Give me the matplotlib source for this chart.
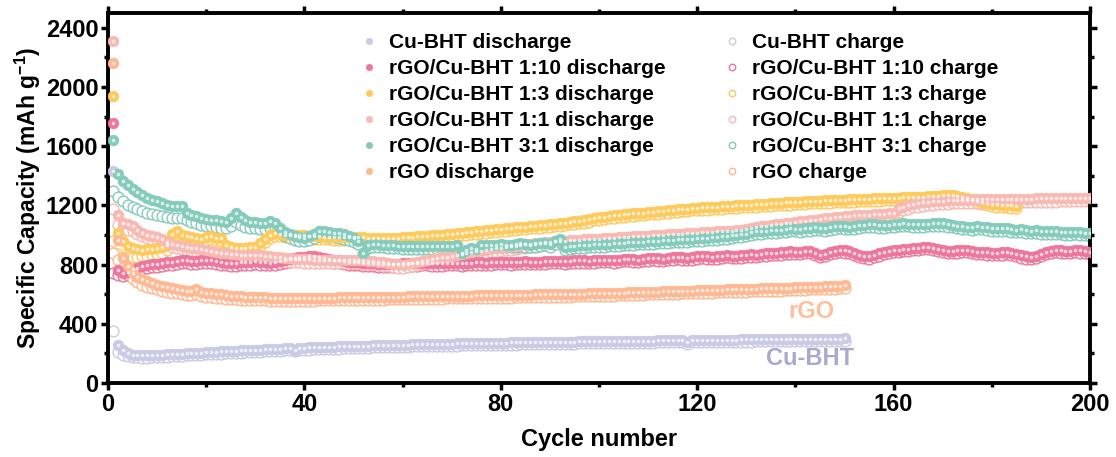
import numpy as np
import matplotlib
matplotlib.use("Agg")
import matplotlib.pyplot as plt

# -----------------------------
# Data
# -----------------------------
cubht_dis = [1430, 255, 222, 200, 192, 188, 186, 186, 187, 189,
             191, 193, 195, 197, 199, 201, 203, 205, 206, 208,
             210, 212, 213, 215, 217, 218, 220, 222, 223, 225,
             226, 228, 229, 231, 232, 234, 235, 226, 237, 239,
             240, 241, 242, 244, 245, 246, 247, 248, 249, 250,
             251, 252, 253, 254, 255, 256, 257, 257, 258, 259,
             260, 261, 261, 262, 263, 264, 264, 265, 266, 266,
             267, 268, 268, 269, 270, 270, 271, 271, 272, 273,
             273, 274, 274, 275, 275, 276, 276, 277, 277, 278,
             278, 279, 279, 280, 280, 281, 281, 282, 282, 283,
             283, 284, 284, 285, 285, 285, 286, 286, 287, 287,
             287, 288, 288, 289, 289, 289, 290, 278, 290, 291,
             291, 291, 292, 292, 292, 293, 293, 293, 294, 294,
             294, 295, 295, 295, 296, 296, 296, 297, 297, 297,
             298, 298, 298, 299, 299, 299, 300, 300, 300, 301]
cubht_chg = [350, 212, 192, 182, 176, 173, 172, 172, 173, 175,
             177, 179, 181, 183, 185, 187, 189, 191, 192, 194,
             196, 198, 199, 201, 203, 204, 206, 208, 209, 211,
             212, 214, 215, 217, 218, 220, 221, 214, 223, 225,
             226, 227, 228, 230, 231, 232, 233, 234, 235, 236,
             237, 238, 239, 240, 241, 242, 243, 243, 244, 245,
             246, 247, 247, 248, 249, 250, 250, 251, 252, 252,
             253, 254, 254, 255, 256, 256, 257, 257, 258, 259,
             259, 260, 260, 261, 261, 262, 262, 263, 263, 264,
             264, 265, 265, 266, 266, 267, 267, 268, 268, 269,
             269, 270, 270, 271, 271, 271, 272, 272, 273, 273,
             273, 274, 274, 275, 275, 275, 276, 266, 276, 277,
             277, 277, 278, 278, 278, 279, 279, 279, 280, 280,
             280, 281, 281, 281, 282, 282, 282, 283, 283, 283,
             284, 284, 284, 285, 285, 285, 286, 286, 286, 287]

r110_dis = [1760, 762, 742, 752, 768, 780, 790, 798, 802, 806,
            810, 815, 820, 824, 828, 830, 826, 822, 828, 834,
            830, 824, 818, 814, 810, 812, 815, 818, 820, 822,
            820, 816, 814, 818, 824, 830, 836, 842, 848, 852,
            855, 856, 852, 846, 840, 834, 828, 824, 820, 818,
            815, 812, 810, 808, 806, 805, 804, 805, 806, 808,
            808, 810, 810, 812, 812, 810, 808, 810, 812, 814,
            812, 810, 812, 814, 816, 815, 814, 816, 818, 820,
            818, 816, 818, 820, 822, 820, 818, 820, 822, 824,
            826, 824, 822, 825, 828, 830, 828, 826, 830, 832,
            834, 832, 830, 834, 838, 840, 836, 834, 838, 842,
            845, 842, 840, 845, 850, 852, 848, 846, 850, 855,
            858, 855, 852, 856, 860, 864, 860, 858, 862, 866,
            870, 868, 872, 876, 880, 878, 882, 886, 890, 888,
            885, 890, 895, 880, 866, 872, 885, 892, 898, 896,
            890, 880, 868, 856, 855, 862, 875, 888, 895, 898,
            900, 905, 908, 912, 915, 918, 922, 915, 905, 898,
            892, 890, 896, 902, 898, 892, 888, 884, 882, 880,
            878, 882, 888, 880, 870, 862, 856, 854, 860, 872,
            886, 894, 898, 896, 892, 894, 898, 896, 892, 888]
r110_chg = [740, 730, 722, 730, 748, 760, 770, 778, 782, 786,
            790, 795, 800, 804, 808, 810, 806, 802, 808, 814,
            810, 804, 798, 794, 790, 792, 795, 798, 800, 802,
            800, 796, 794, 798, 804, 810, 816, 822, 828, 832,
            835, 836, 832, 826, 820, 814, 808, 804, 800, 798,
            795, 792, 790, 788, 786, 785, 784, 785, 786, 788,
            790, 792, 792, 794, 794, 792, 790, 792, 794, 796,
            795, 793, 795, 797, 799, 798, 797, 799, 801, 803,
            802, 800, 802, 804, 806, 804, 802, 804, 806, 808,
            810, 808, 806, 809, 812, 814, 812, 810, 814, 816,
            818, 816, 814, 818, 822, 824, 820, 818, 822, 826,
            829, 826, 824, 829, 834, 836, 832, 830, 834, 839,
            842, 839, 836, 840, 844, 848, 844, 842, 846, 850,
            854, 852, 856, 860, 864, 862, 866, 870, 874, 872,
            870, 875, 880, 866, 852, 858, 870, 877, 883, 881,
            875, 866, 854, 842, 841, 848, 860, 873, 880, 883,
            885, 890, 893, 897, 900, 903, 907, 900, 890, 883,
            877, 875, 881, 887, 883, 877, 873, 869, 867, 865,
            863, 867, 873, 865, 855, 847, 841, 839, 845, 857,
            871, 879, 883, 881, 877, 879, 883, 881, 877, 873]

r13_dis = [1940, 1012, 962, 925, 912, 905, 902, 904, 906, 910,
           916, 932, 1010, 1025, 1002, 992, 986, 980, 976, 984,
           990, 982, 978, 935, 920, 914, 912, 914, 916, 920,
           948, 976, 1000, 1014, 1006, 1000, 998, 1000, 1002, 1000,
           996, 992, 990, 988, 986, 985, 984, 984, 985, 986,
           985, 984, 983, 982, 982, 981, 980, 980, 982, 984,
           986, 988, 990, 993, 996, 998, 1000, 1003, 1006, 1010,
           1013, 1016, 1019, 1022, 1025, 1028, 1032, 1035, 1038, 1042,
           1045, 1048, 1051, 1054, 1057, 1060, 1063, 1066, 1069, 1072,
           1076, 1080, 1084, 1088, 1092, 1096, 1100, 1106, 1114, 1120,
           1124, 1128, 1132, 1136, 1140, 1143, 1146, 1149, 1152, 1155,
           1158, 1161, 1164, 1167, 1170, 1173, 1176, 1179, 1182, 1184,
           1186, 1188, 1190, 1192, 1194, 1196, 1198, 1200, 1202, 1204,
           1206, 1208, 1210, 1212, 1214, 1216, 1218, 1220, 1222, 1224,
           1226, 1228, 1230, 1231, 1232, 1234, 1235, 1236, 1238, 1239,
           1240, 1242, 1243, 1244, 1246, 1247, 1248, 1250, 1251, 1252,
           1253, 1254, 1256, 1257, 1258, 1260, 1262, 1264, 1266, 1268,
           1270, 1268, 1262, 1255, 1248, 1240, 1232, 1225, 1218, 1212,
           1208, 1205, 1202, 1200, 1198]
r13_chg = [960, 870, 850, 845, 848, 852, 856, 860, 866, 872,
           880, 900, 975, 1000, 985, 975, 968, 962, 958, 966,
           972, 966, 960, 915, 900, 894, 892, 894, 896, 900,
           925, 955, 980, 996, 990, 984, 982, 984, 986, 984,
           980, 976, 974, 972, 970, 969, 968, 968, 969, 970,
           969, 968, 967, 966, 966, 965, 964, 964, 966, 968,
           970, 972, 974, 977, 980, 982, 984, 987, 990, 994,
           997, 1000, 1003, 1006, 1009, 1012, 1016, 1019, 1022, 1026,
           1029, 1032, 1035, 1038, 1041, 1044, 1047, 1050, 1053, 1056,
           1060, 1064, 1068, 1072, 1076, 1080, 1084, 1090, 1098, 1104,
           1108, 1112, 1116, 1120, 1124, 1127, 1130, 1133, 1136, 1139,
           1142, 1145, 1148, 1151, 1154, 1157, 1160, 1163, 1166, 1168,
           1170, 1172, 1174, 1176, 1178, 1180, 1182, 1184, 1186, 1188,
           1190, 1192, 1194, 1196, 1198, 1200, 1202, 1204, 1206, 1208,
           1210, 1212, 1214, 1215, 1216, 1218, 1219, 1220, 1222, 1223,
           1224, 1226, 1227, 1228, 1230, 1231, 1232, 1234, 1235, 1236,
           1237, 1238, 1240, 1241, 1242, 1244, 1246, 1248, 1250, 1252,
           1254, 1252, 1246, 1239, 1232, 1224, 1216, 1209, 1202, 1196,
           1192, 1189, 1186, 1184, 1182]

r11_dis = [2310, 1136, 1082, 1076, 1060, 1032, 1012, 1000, 994, 988,
           972, 952, 942, 935, 926, 920, 915, 912, 908, 900,
           892, 885, 880, 876, 872, 870, 868, 866, 865, 864,
           863, 860, 856, 852, 848, 845, 842, 840, 838, 836,
           835, 834, 833, 832, 832, 831, 830, 830, 830, 830,
           830, 828, 826, 824, 820, 815, 810, 806, 802, 800,
           806, 812, 818, 824, 830, 836, 842, 848, 854, 860,
           866, 872, 878, 884, 890, 895, 900, 905, 910, 915,
           920, 924, 928, 932, 936, 940, 944, 948, 952, 956,
           958, 960, 962, 964, 966, 968, 970, 972, 974, 976,
           978, 980, 982, 984, 986, 988, 990, 992, 994, 996,
           998, 1000, 1002, 1004, 1006, 1008, 1010, 1012, 1014, 1016,
           1018, 1020, 1022, 1024, 1026, 1028, 1030, 1032, 1036, 1040,
           1046, 1052, 1058, 1064, 1068, 1072, 1076, 1080, 1084, 1088,
           1092, 1096, 1100, 1104, 1108, 1112, 1116, 1120, 1124, 1127,
           1130, 1132, 1134, 1136, 1138, 1140, 1142, 1144, 1146, 1150,
           1180, 1190, 1200, 1208, 1214, 1220, 1224, 1228, 1230, 1232,
           1234, 1236, 1237, 1238, 1238, 1239, 1240, 1240, 1241, 1242,
           1242, 1243, 1244, 1244, 1245, 1245, 1246, 1246, 1247, 1247,
           1248, 1248, 1248, 1249, 1249, 1250, 1250, 1250, 1251, 1252]
r11_chg = [1176, 1070, 1040, 1035, 1025, 1005, 990, 978, 972, 966,
           950, 930, 920, 913, 904, 898, 893, 890, 886, 878,
           870, 863, 858, 854, 850, 848, 846, 844, 843, 842,
           841, 838, 834, 830, 826, 823, 820, 818, 816, 814,
           813, 812, 811, 810, 810, 809, 808, 808, 808, 808,
           808, 806, 804, 802, 798, 793, 788, 784, 780, 778,
           784, 790, 796, 802, 808, 814, 820, 826, 832, 838,
           844, 850, 856, 862, 868, 873, 878, 883, 888, 893,
           898, 902, 906, 910, 914, 918, 922, 926, 930, 934,
           936, 938, 940, 942, 944, 946, 948, 950, 952, 954,
           956, 958, 960, 962, 964, 966, 968, 970, 972, 974,
           976, 978, 980, 982, 984, 986, 988, 990, 992, 994,
           996, 998, 1000, 1002, 1004, 1006, 1008, 1010, 1014, 1018,
           1024, 1030, 1036, 1042, 1046, 1050, 1054, 1058, 1062, 1066,
           1070, 1074, 1078, 1082, 1086, 1090, 1094, 1098, 1102, 1105,
           1108, 1110, 1112, 1114, 1116, 1118, 1120, 1122, 1124, 1128,
           1158, 1168, 1178, 1186, 1192, 1198, 1202, 1206, 1208, 1210,
           1212, 1214, 1215, 1216, 1216, 1217, 1218, 1218, 1219, 1220,
           1220, 1221, 1222, 1222, 1223, 1223, 1224, 1224, 1225, 1225,
           1226, 1226, 1226, 1227, 1227, 1228, 1228, 1228, 1229, 1230]

r31_dis = [1640, 1415, 1365, 1335, 1310, 1290, 1270, 1250, 1238, 1228,
           1215, 1205, 1198, 1196, 1196, 1150, 1136, 1125, 1115, 1108,
           1102, 1098, 1092, 1090, 1115, 1149, 1120, 1098, 1090, 1085,
           1080, 1082, 1092, 1080, 1050, 1020, 1008, 995, 988, 982,
           990, 1010, 1028, 1025, 1020, 1016, 1014, 1005, 995, 982,
           960, 880, 935, 940, 938, 935, 932, 930, 928, 926,
           925, 924, 925, 926, 925, 924, 925, 926, 925, 926,
           935, 880, 900, 912, 905, 935, 934, 934, 935, 936,
           934, 935, 940, 945, 938, 935, 940, 946, 948, 940,
           960, 975, 920, 925, 928, 930, 932, 934, 936, 938,
           940, 942, 944, 946, 948, 950, 952, 954, 956, 958,
           960, 962, 964, 966, 968, 970, 972, 974, 976, 978,
           980, 982, 984, 986, 990, 994, 998, 1002, 1006, 1010,
           1020, 1024, 1028, 1030, 1032, 1034, 1036, 1040, 1044, 1042,
           1040, 1044, 1048, 1052, 1050, 1048, 1052, 1058, 1062, 1060,
           1056, 1060, 1066, 1070, 1074, 1072, 1068, 1066, 1070, 1074,
           1076, 1078, 1076, 1074, 1072, 1074, 1076, 1078, 1080, 1078,
           1074, 1070, 1064, 1060, 1056, 1054, 1058, 1056, 1052, 1048,
           1046, 1048, 1044, 1040, 1036, 1038, 1034, 1030, 1032, 1028,
           1026, 1024, 1028, 1022, 1020, 1018, 1022, 1018, 1016, 1014]
r31_chg = [1300, 1255, 1228, 1205, 1190, 1178, 1165, 1152, 1145, 1138,
           1130, 1122, 1118, 1115, 1114, 1098, 1085, 1078, 1070, 1064,
           1060, 1056, 1050, 1048, 1060, 1085, 1070, 1055, 1048, 1044,
           1040, 1042, 1050, 1040, 1015, 990, 978, 968, 962, 958,
           964, 980, 994, 992, 988, 984, 982, 975, 966, 955,
           940, 870, 915, 922, 920, 917, 914, 912, 910, 908,
           907, 906, 907, 908, 907, 906, 907, 908, 907, 908,
           915, 866, 884, 895, 890, 916, 916, 916, 917, 918,
           916, 917, 922, 926, 920, 917, 922, 928, 930, 922,
           940, 955, 902, 907, 910, 912, 914, 916, 918, 920,
           922, 924, 926, 928, 930, 932, 934, 936, 938, 940,
           942, 944, 946, 948, 950, 952, 954, 956, 958, 960,
           962, 964, 966, 968, 972, 976, 980, 984, 988, 992,
           1002, 1006, 1010, 1012, 1014, 1016, 1018, 1022, 1026, 1024,
           1022, 1026, 1030, 1034, 1032, 1030, 1034, 1040, 1044, 1042,
           1038, 1042, 1048, 1052, 1056, 1054, 1050, 1048, 1052, 1056,
           1058, 1060, 1058, 1056, 1054, 1056, 1058, 1060, 1062, 1060,
           1056, 1052, 1046, 1042, 1038, 1036, 1040, 1038, 1034, 1030,
           1028, 1030, 1026, 1022, 1018, 1020, 1016, 1012, 1014, 1010,
           1008, 1006, 1010, 1004, 1002, 1000, 1004, 1000, 998, 996]

rgo_dis = [2160, 967, 845, 790, 741, 718, 700, 686, 675, 664,
           655, 646, 640, 635, 630, 625, 620, 632, 616, 610,
           606, 602, 598, 594, 590, 588, 586, 584, 582, 580,
           579, 578, 577, 576, 575, 575, 574, 574, 574, 574,
           575, 575, 576, 576, 577, 577, 578, 578, 579, 579,
           580, 580, 581, 581, 582, 582, 583, 583, 584, 584,
           585, 585, 586, 586, 587, 587, 588, 588, 589, 589,
           590, 590, 591, 591, 592, 592, 593, 593, 594, 594,
           595, 595, 596, 596, 597, 597, 598, 598, 599, 599,
           600, 601, 601, 602, 603, 603, 604, 605, 605, 606,
           607, 608, 609, 610, 611, 612, 613, 614, 615, 616,
           617, 618, 619, 620, 621, 622, 623, 624, 625, 626,
           627, 628, 629, 630, 631, 632, 633, 634, 635, 636,
           637, 638, 639, 640, 641, 642, 643, 644, 645, 646,
           648, 649, 650, 651, 652, 654, 655, 656, 658, 660]
rgo_chg = [880, 830, 780, 740, 700, 680, 665, 652, 642, 632,
           624, 616, 610, 605, 600, 596, 592, 600, 588, 584,
           580, 576, 573, 570, 567, 565, 563, 562, 561, 560,
           559, 558, 557, 557, 556, 556, 556, 556, 556, 556,
           557, 557, 558, 558, 559, 559, 560, 560, 561, 561,
           562, 562, 563, 563, 564, 564, 565, 565, 566, 566,
           567, 567, 568, 568, 569, 569, 570, 570, 571, 571,
           572, 572, 573, 573, 574, 574, 575, 575, 576, 576,
           577, 577, 578, 578, 579, 579, 580, 580, 581, 581,
           582, 583, 583, 584, 585, 585, 586, 587, 587, 588,
           589, 590, 591, 592, 593, 594, 595, 596, 597, 598,
           599, 600, 601, 602, 603, 604, 605, 606, 607, 608,
           609, 610, 611, 612, 613, 614, 615, 616, 617, 618,
           619, 620, 621, 622, 623, 624, 625, 626, 627, 628,
           630, 631, 632, 633, 634, 636, 637, 638, 640, 642]

names = ["Cu-BHT", "rGO/Cu-BHT 1:10", "rGO/Cu-BHT 1:3",
         "rGO/Cu-BHT 1:1", "rGO/Cu-BHT 3:1", "rGO"]
discharge = [cubht_dis, r110_dis, r13_dis, r11_dis, r31_dis, rgo_dis]
charge = [cubht_chg, r110_chg, r13_chg, r11_chg, r31_chg, rgo_chg]
colors = ["#CBCAE4", "#EE769C", "#FFCA5C", "#F9B9B3", "#84CBBB", "#FFB892"]

# -----------------------------
# Style
# -----------------------------
plt.rcParams["font.family"] = ["Liberation Sans", "DejaVu Sans"]
plt.rcParams["font.weight"] = "bold"
plt.rcParams["mathtext.default"] = "regular"

fig = plt.figure(figsize=(11.16, 4.57), dpi=100)
ax = fig.add_axes([108 / 1116, 74 / 457, 982 / 1116, 370 / 457])

# -----------------------------
# Plot
# -----------------------------
ms = 7.8
dis_handles, chg_handles = [], []
for vals, col in zip(charge, colors):
    x = np.arange(1, len(vals) + 1)
    h, = ax.plot(x, vals, "o", ms=ms, mfc="white", mec=col, mew=1.0, zorder=2)
    chg_handles.append(h)
for vals, col in zip(discharge, colors):
    x = np.arange(1, len(vals) + 1)
    h, = ax.plot(x, vals, "o", ms=ms, mfc=col, mec=col, mew=0.4, zorder=3)
    ax.plot(x, vals, "o", ms=2.6, mfc="white", mec="none", alpha=0.7, zorder=4)
    dis_handles.append(h)

ax.text(138.5, 440, "rGO", color="#FFBF9C", fontsize=17, fontweight="bold")
ax.text(134, 120, "Cu-BHT", color="#ABA8D0", fontsize=17, fontweight="bold")

leg_kw = dict(bbox_transform=fig.transFigure, frameon=False, fontsize=15,
              markerscale=0.6, handlelength=1.0, handletextpad=0.45,
              labelspacing=0.33, borderpad=0, loc="upper left")
leg1 = ax.legend(dis_handles, [n + " discharge" for n in names],
                 bbox_to_anchor=(348 / 1116, 1 - 23 / 457), **leg_kw)
ax.add_artist(leg1)
ax.legend(chg_handles, [n + " charge" for n in names],
          bbox_to_anchor=(711 / 1116, 1 - 23 / 457), **leg_kw)

ax.set_xlim(0, 200)
ax.set_ylim(0, 2500)
ax.set_xticks([0, 40, 80, 120, 160, 200])
ax.set_xticks([20, 60, 100, 140, 180], minor=True)
ax.set_yticks([0, 400, 800, 1200, 1600, 2000, 2400])
ax.set_yticks([200, 600, 1000, 1400, 1800, 2200], minor=True)
ax.tick_params(which="major", direction="out", length=5, width=2.5,
               labelsize=17, top=True, right=True, pad=2)
ax.tick_params(which="minor", direction="out", length=3, width=2.5,
               top=True, right=True)
for s in ax.spines.values():
    s.set_linewidth(2.8)

ax.set_xlabel("Cycle number", fontsize=17, fontweight="bold", labelpad=9)
ax.set_ylabel("Specific Capacity (mAh g$^{-1}$)", fontsize=16.5,
              fontweight="bold", labelpad=2)

fig.savefig("out.png", dpi=100)
